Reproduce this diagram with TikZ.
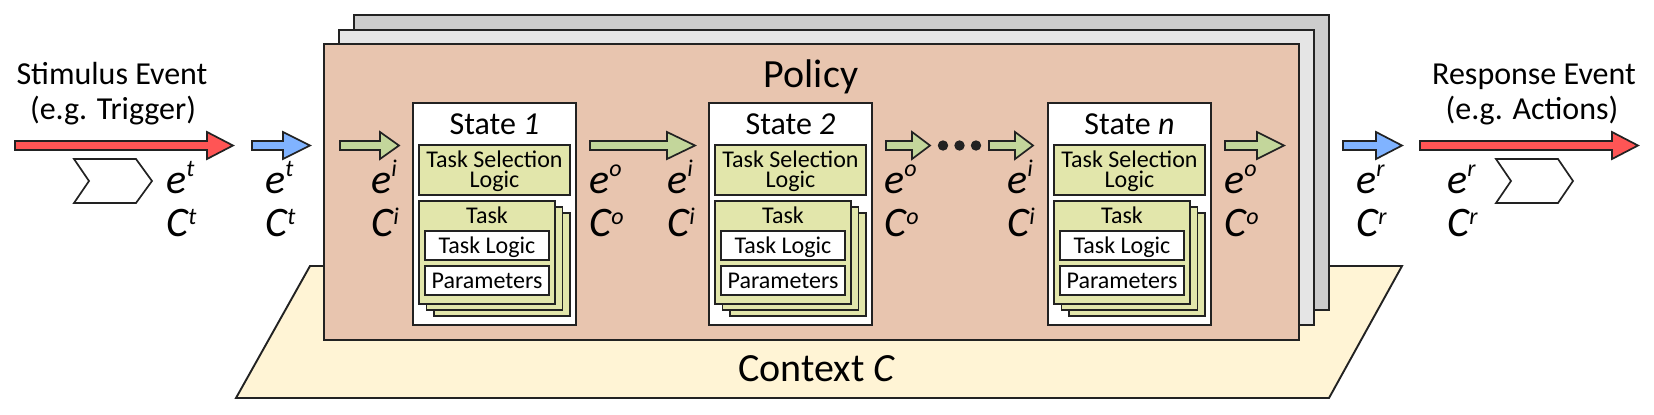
\documentclass[tikz,border=0pt]{standalone}
\usepackage{fontspec}
\setmainfont{Carlito}
\definecolor{redA}{HTML}{FF5555}
\definecolor{blueA}{HTML}{80B3FF}
\definecolor{greenA}{HTML}{C3D69B}
\definecolor{policyC}{HTML}{E8C5AF}
\definecolor{ctxC}{HTML}{FFF4D5}
\definecolor{grayA}{HTML}{CCCCCC}
\definecolor{grayB}{HTML}{E5E5E5}
\definecolor{tslC}{HTML}{E2E6AB}
\definecolor{lineC}{HTML}{222222}
\newcommand{\barrow}[4]{\draw[arrowline, fill=#4] (#1,141) -- (#2,141) -- (#2,132) -- (#3,145.5) -- (#2,159) -- (#2,150) -- (#1,150) -- cycle;}
\newcommand{\supt}[2]{\raisebox{#1}{\fontsize{12}{12}\selectfont #2}}
\newcommand{\evlab}[4]{%
  \node[lbl] (#4e) at (#1,193) {e\supt{8.5pt}{#2}};
  \node[lbl] (#4c) at (#1,236) {C\supt{6pt}{#3}};}
\newcommand{\statebox}[3]{%
  \begin{scope}[shift={(#1,0)}]
    \draw[box, fill=white] (0,103) rectangle (163,325);
    \node[txt, font=\fontsize{16}{16}\selectfont] (#3title) at (81.5,134) {State \textit{#2}};
    \draw[box, fill=tslC] (6,145) rectangle (157,195);
    \node[inner sep=0pt, align=center, font=\fontsize{12}{10}\selectfont] (#3tsl) at (81.5,171) {Task Selection\\Logic};
    \draw[box, fill=tslC] (21,213) rectangle (157,316);
    \draw[box, fill=tslC] (13.5,207) rectangle (149.5,310);
    \draw[box, fill=tslC] (6,201) rectangle (142,304);
    \node[txt, font=\fontsize{12}{12}\selectfont] (#3task) at (74,223) {Task};
    \draw[box, fill=white] (12,231) rectangle (136,260);
    \node[txt, font=\fontsize{12}{12}\selectfont] (#3logic) at (74,253) {Task Logic};
    \draw[box, fill=white] (12,266) rectangle (136,295);
    \node[txt, font=\fontsize{12}{12}\selectfont] (#3par) at (74,288) {Parameters};
  \end{scope}}
\begin{document}
\begin{tikzpicture}[x=0.5pt, y=-0.5pt, line join=miter,
  box/.style={draw=lineC, line width=0.95pt},
  arrowline/.style={draw=lineC, line width=0.85pt},
  txt/.style={anchor=base, inner sep=0pt},
  lbl/.style={anchor=base west, inner sep=0pt, font=\fontsize{21}{21}\selectfont\itshape}]
\useasboundingbox (0,0) rectangle (1654,414);
% context plane
\draw[box, fill=ctxC] (310,266) -- (1402,266) -- (1329,398) -- (236,398) -- cycle;
\node[txt, font=\fontsize{20}{20}\selectfont] (context) at (817,381) {Context \textit{C}};
% stacked policies
\draw[box, fill=grayA] (354,15) rectangle (1329,310);
\draw[box, fill=grayB] (339,30) rectangle (1314,325);
\draw[box, fill=policyC] (324,44) rectangle (1299,340);
\node[txt, font=\fontsize{20}{20}\selectfont] (policy) at (811,87) {Policy};
% states
\statebox{413}{1}{s1}
\statebox{709}{2}{s2}
\statebox{1048}{n}{sn}
% left side
\node[txt, font=\fontsize{16}{16}\selectfont] (stim) at (112,84) {Stimulus Event};
\node[txt, font=\fontsize{16}{16}\selectfont] (stimb) at (113,119) {(e.g. Trigger)};
\barrow{15}{207}{233}{redA}
\draw[arrowline, fill=white] (74,159) -- (136,159) -- (152,181) -- (136,203) -- (74,203) -- (89,181) -- cycle;
\evlab{166}{t}{t}{la}
\barrow{252}{283}{310}{blueA}
\evlab{265}{t}{t}{lb}
% inside policy
\barrow{340}{380}{399}{greenA}
\evlab{371}{i}{i}{lc}
\barrow{590}{667}{695}{greenA}
\evlab{589}{o}{o}{ld}
\evlab{667}{i}{i}{le}
\barrow{886}{912}{930}{greenA}
\evlab{884}{o}{o}{lf}
\fill[lineC] (943,145.5) circle[radius=2.6pt];
\fill[lineC] (959.5,145.5) circle[radius=2.6pt];
\fill[lineC] (976,145.5) circle[radius=2.6pt];
\barrow{989}{1015}{1033}{greenA}
\evlab{1007}{i}{i}{lg}
\barrow{1225}{1257}{1284}{greenA}
\evlab{1224}{o}{o}{lh}
% right side
\barrow{1343}{1376}{1402}{blueA}
\evlab{1356}{r}{r}{li}
\barrow{1420}{1612}{1638}{redA}
\evlab{1447}{r}{r}{lj}
\draw[arrowline, fill=white] (1496,159) -- (1558,159) -- (1573,181) -- (1558,203) -- (1496,203) -- (1511,181) -- cycle;
\node[txt, font=\fontsize{16}{16}\selectfont] (resp) at (1534,84) {Response Event};
\node[txt, font=\fontsize{16}{16}\selectfont] (respb) at (1532,119) {(e.g. Actions)};
\end{tikzpicture}
\end{document}
